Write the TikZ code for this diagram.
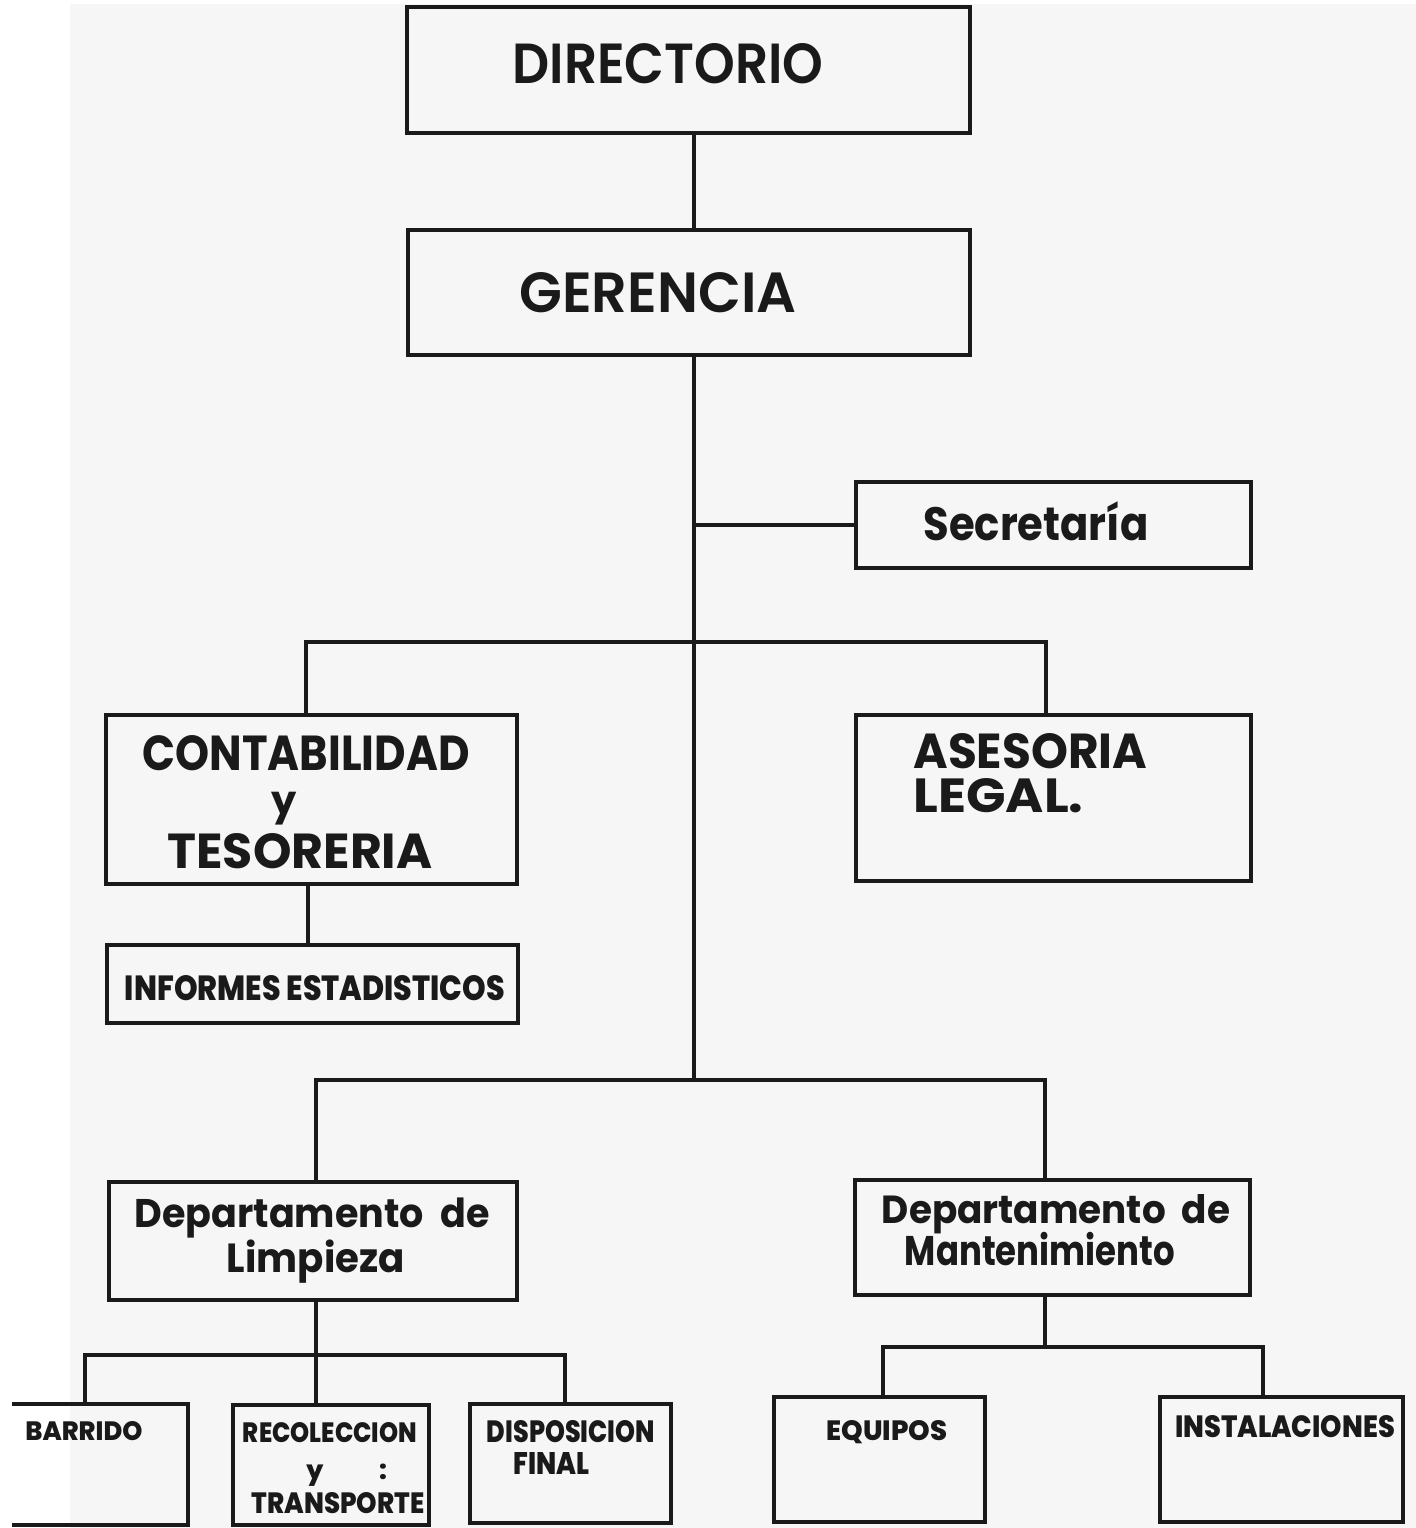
\documentclass[tikz,border=0pt]{standalone}
\usepackage{fontspec}
\usepackage{graphicx}
\setmainfont{Poppins}
\newfontfamily\fsemi{Poppins SemiBold}
\newfontfamily\fbold{Poppins Bold}
\newfontfamily\fxbold{Poppins ExtraBold}
\definecolor{ink}{HTML}{1A1A1A}
\definecolor{paper}{HTML}{F6F6F6}
% rectangle node from its corners (x1,y1,x2,y2)
\newcommand\obox[5]{\node[box, minimum width={(#4-#2)*0.5pt}, minimum height={(#5-#3)*0.5pt}] (#1) at ({(#2+#4)/2},{(#3+#5)/2}) {};}
\newcommand\capsfit[4]{\resizebox{#1pt}{#2pt}{#3#4}}
\newcommand\widthfit[4]{\scalebox{1}[#2]{\resizebox{#1pt}{!}{#3#4}}}
\begin{document}
\begin{tikzpicture}[x=0.5pt,y=-0.5pt,
  box/.style={draw=ink, line width=2pt, inner sep=0pt},
  openbox/.style={inner sep=0pt},
  conn/.style={draw=ink, line width=1.8pt},
  lbl/.style={inner sep=0pt, text=ink, anchor=base},
  lblw/.style={inner sep=0pt, text=ink, anchor=base west}]
\useasboundingbox (0,0) rectangle (1416,1528);
\fill[white] (0,0) rectangle (1416,1528);
\fill[paper] (70,4) rectangle (1416,1528);

% boxes
\obox{dir}{407}{7}{970}{133}
\obox{ger}{408}{230}{970}{355}
\obox{sec}{856}{482}{1251}{568}
\obox{cont}{106}{715}{517}{884}
\obox{ases}{856}{715}{1251}{881}
\obox{inf}{107}{945}{518}{1023}
\obox{lim}{109}{1182}{517}{1300}
\obox{man}{855}{1180}{1250}{1295}
\node[openbox, minimum width=88pt, minimum height=60.5pt] (bar) at (100,1464.5) {};
\draw[ink, line width=2pt] (bar.north west) -- (bar.north east) -- (bar.south east) -- (bar.south west);
\obox{rec}{233}{1405}{429}{1525}
\obox{dis}{470}{1404}{671}{1523}
\obox{equ}{774}{1397}{985}{1522}
\obox{ins}{1160}{1397}{1403}{1522}

% connectors
\coordinate (cA) at (694,1080);
\draw[conn] (dir.south -| cA) -- (ger.north -| cA);
\draw[conn] (ger.south -| cA) -- (cA);
\draw[conn] (cA |- sec.west) -- (sec.west);
\coordinate (k1) at (306,642);
\coordinate (k2) at (1046,642);
\draw[conn] (cont.north -| k1) -- (k1) -- (k2) -- (ases.north -| k2);
\coordinate (k3) at (308,914);
\draw[conn] (cont.south -| k3) -- (inf.north -| k3);
\coordinate (k4) at (316,1080);
\coordinate (k5) at (1045,1080);
\draw[conn] (lim.north -| k4) -- (k4) -- (k5) -- (man.north -| k5);
\coordinate (m0) at (85,1355);
\coordinate (m1) at (316,1355);
\coordinate (m2) at (565,1355);
\draw[conn] (lim.south -| m1) -- (m1) -- (rec.north -| m1);
\draw[conn] (bar.north -| m0) -- (m0) -- (m2) -- (dis.north -| m2);
\coordinate (n0) at (883,1347);
\coordinate (n1) at (1045,1347);
\coordinate (n2) at (1263,1347);
\draw[conn] (man.south -| n1) -- (n1);
\draw[conn] (equ.north -| n0) -- (n0) -- (n2) -- (ins.north -| n2);

% labels
\node[lbl] (tdir) at (668,83) {\capsfit{155.5}{20}{\fsemi}{DIRECTORIO}};
\node[lbl] (tger) at (658,312) {\capsfit{138.5}{20}{\fsemi}{GERENCIA}};
\node[lbl] (tsec) at (1036,540) {\widthfit{112.5}{1.12}{\fbold}{Secretaría}};
\node[lbl] (tcon1) at (306,770) {\capsfit{163.5}{17.5}{\fbold}{CONTABILIDAD}};
\node[lbl] (tcon2) at (284,814) {\fbold\fontsize{20}{20}\selectfont y};
\node[lbl] (tcon3) at (300,868) {\capsfit{132.5}{17.5}{\fbold}{TESORERIA}};
\node[lblw] (tas1) at (913,768) {\capsfit{117}{17.5}{\fbold}{ASESORIA}};
\node[lblw] (tas2) at (913,812) {\capsfit{85}{17}{\fbold}{LEGAL.}};
\node[lbl] (tinf) at (315,1000) {\capsfit{190}{12.5}{\fxbold}{INFORMES ESTADISTICOS}};
\node[lbl] (tlim1) at (312,1227) {\widthfit{177.5}{1.05}{\fbold}{Departamento\ \ de}};
\node[lbl] (tlim2) at (316,1272) {\widthfit{89}{1.05}{\fbold}{Limpieza}};
\node[lbl] (tman1) at (1056,1223) {\widthfit{174}{1.05}{\fbold}{Departamento\ \ de}};
\node[lbl] (tman2) at (1040,1265) {\widthfit{135}{1.22}{\fbold}{Mantenimiento}};
\node[lblw] (tbar) at (25,1440) {\capsfit{58.5}{9.5}{\fxbold}{BARRIDO}};
\node[lbl] (trec1) at (330,1442) {\capsfit{87}{10}{\fxbold}{RECOLECCION}};
\node[lbl] (trec2) at (315,1479) {\fxbold\fontsize{13}{13}\selectfont y};
\node[lbl] (trec3) at (383,1479) {\fxbold\fontsize{13}{13}\selectfont :};
\node[lbl] (trec4) at (338,1513) {\capsfit{86.5}{10.5}{\fxbold}{TRANSPORTE}};
\node[lbl] (tdis1) at (571,1442) {\capsfit{84}{11}{\fxbold}{DISPOSICION}};
\node[lblw] (tdis2) at (513,1474) {\capsfit{38}{11}{\fxbold}{FINAL}};
\node[lbl] (tequ) at (887,1440) {\capsfit{60.5}{10}{\fxbold}{EQUIPOS}};
\node[lbl] (tins) at (1285,1437) {\capsfit{110}{11}{\fxbold}{INSTALACIONES}};
\end{tikzpicture}
\end{document}
